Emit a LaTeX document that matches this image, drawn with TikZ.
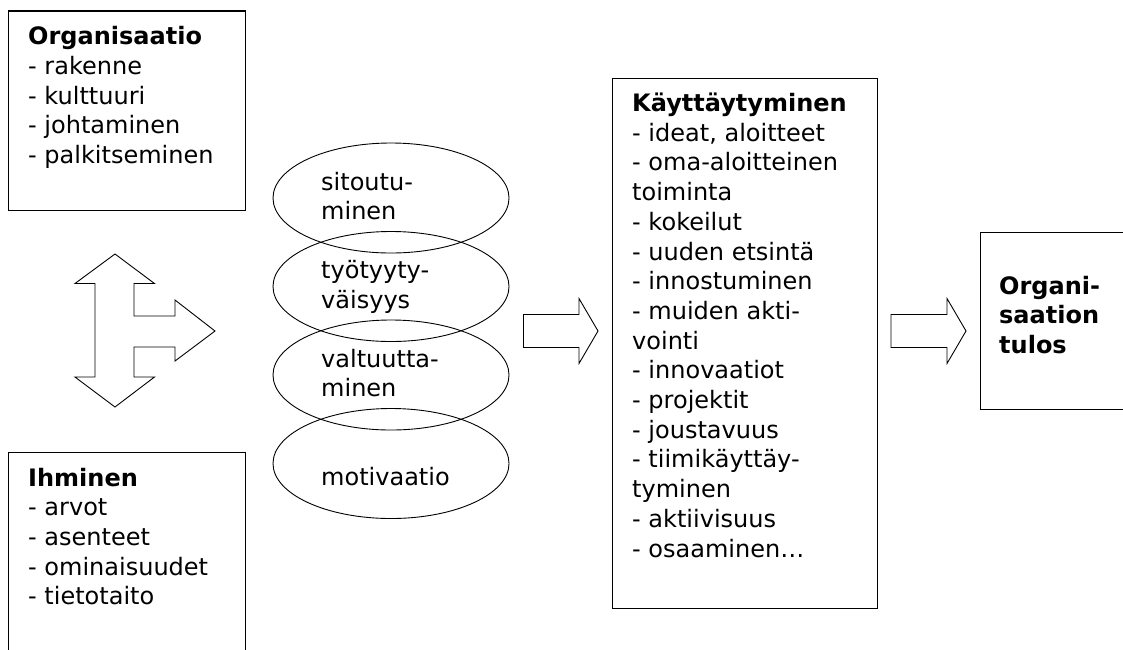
\documentclass[tikz,border=0pt]{standalone}
\usepackage{fontspec}
\setmainfont{DejaVu Sans}
\usetikzlibrary{shapes.geometric}

\begin{document}
\begin{tikzpicture}[x=1pt, y=-1pt,
  laatikko/.style={draw, line width=1.2pt, rectangle, inner sep=0pt, anchor=north west},
  kupla/.style={draw, line width=0.9pt, ellipse, inner sep=0pt, minimum width=236, minimum height=110},
  teksti/.style={anchor=base west, align=left, inner sep=0pt, font=\fontsize{24}{29.7}\selectfont},
  nuoli/.style={draw, line width=0.9pt, line join=miter}]

 \useasboundingbox (0,0) rectangle (1123,649) ;
 \clip (0,0) rectangle (1123,649) ;

 %%%%%%%%%% Laatikot %%%%%%%%%%
 \node[laatikko, minimum width=237, minimum height=199.5] (org) at (8,10.3) {} ;
 \node[laatikko, minimum width=237, minimum height=220] (ihm) at (8,452) {} ;
 \node[laatikko, minimum width=265, minimum height=530] (kay) at (612,77.5) {} ;
 \node[laatikko, minimum width=160, minimum height=177] (tulos) at (980,232) {} ;

 % Tekstit (ankkuri = viimeisen rivin perusviiva)
 \node[teksti] (orgtxt) at (28,163.5) {\textbf{Organisaatio}\\- rakenne\\- kulttuuri\\- johtaminen\\- palkitseminen} ;
 \node[teksti] (ihmtxt) at (28,604.8) {\textbf{Ihminen}\\- arvot\\- asenteet\\- ominaisuudet\\- tietotaito} ;
 \node[teksti] (kaytxt) at (632,557) {\textbf{Käyttäytyminen}\\- ideat, aloitteet\\- oma-aloitteinen\\toiminta\\- kokeilut\\- uuden etsintä\\- innostuminen\\- muiden akti-\\vointi\\- innovaatiot\\- projektit\\- joustavuus\\- tiimikäyttäy-\\tyminen\\- aktiivisuus\\- osaaminen…} ;
 \node[teksti, font=\fontsize{24}{29.7}\selectfont\bfseries] (tulostxt) at (999,353.4) {Organi-\\saation\\tulos} ;

 %%%%%%%%%% Kuplat %%%%%%%%%%
 \node[kupla] (e1) at (391,198) {} ;
 \node[kupla] (e2) at (391,286.5) {} ;
 \node[kupla] (e3) at (391,375) {} ;
 \node[kupla] (e4) at (391,463.5) {} ;

 \node[teksti] (e1txt) at (321,219.7) {sitoutu-\\minen} ;
 \node[teksti] (e2txt) at (321,308.2) {työtyyty-\\väisyys} ;
 \node[teksti] (e3txt) at (321,396.7) {valtuutta-\\minen} ;
 \node[teksti] (e4txt) at (321,485) {motivaatio} ;

 %%%%%%%%%% Nuolet %%%%%%%%%%
 \draw[nuoli] (115,254) -- (154.5,283.5) -- (134,283.5) -- (134,316) -- (175,316) -- (175,300)
   -- (215,331) -- (175,361) -- (175,347) -- (134,347) -- (134,377) -- (154.5,377)
   -- (115,407) -- (75,377) -- (95,377) -- (95,283.5) -- (75,283.5) -- cycle ;

 \draw[nuoli] (523.5,314.5) -- (579,314.5) -- (579,298.5) -- (598,331) -- (579,363.5) -- (579,347.5) -- (523.5,347.5) -- cycle ;
 \draw[nuoli] (891,314.5) -- (947,314.5) -- (947,298.5) -- (966,331) -- (947,363.5) -- (947,347.5) -- (891,347.5) -- cycle ;

\end{tikzpicture}
\end{document}
